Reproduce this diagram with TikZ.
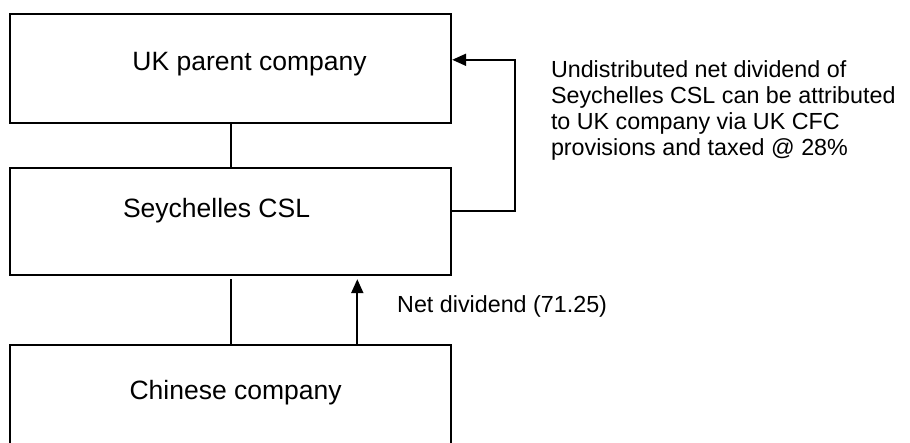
\documentclass[tikz,border=0pt]{standalone}
\usepackage{fontspec}
\setmainfont{Liberation Sans}
\usetikzlibrary{arrows.meta}

\begin{document}
\begin{tikzpicture}[x=1pt, y=1pt, line width=2pt,
  box/.style={draw=black, rectangle, inner sep=0pt, minimum width=441pt},
  boxtext/.style={anchor=base west, inner sep=0pt, font=\fontsize{26.5}{30}\selectfont},
  note/.style={anchor=base west, inner sep=0pt, align=left, font=\fontsize{23.3}{23}\selectfont},
  >={Triangle[length=14pt, width=12pt]}]
\useasboundingbox (0,0) rectangle (910,443);

\node[box, minimum height=109pt] (uk) at (230.7,374.5) {};
\node[box, minimum height=107pt] (sey) at (230.7,221.7) {};
\node[box, minimum height=109pt] (chn) at (230.7,43.9) {};

\node[boxtext] (uktxt) at (131.4,372) {UK parent company};
\node[boxtext] (seytxt) at (122,225.8) {Seychelles CSL};
\node[boxtext] (chntxt) at (128.6,43.3) {Chinese company};

\node[note] (net) at (396.2,130) {Net dividend (71.25)};
% last line sits on the base anchor
\node[note] (cfc) at (550,287) {Undistributed net dividend of\\[3pt]Seychelles CSL can be attributed\\[3pt]to UK company via UK CFC\\[3pt]provisions and taxed @ 28\%};

\draw (uk.south) -- (sey.north);
\draw[shorten >=3.4pt] (chn.north) -- (sey.south);
\draw[->, shorten >=3.4pt] ([xshift=126.6pt]chn.north) -- ([xshift=126.6pt]sey.south);
\draw[->] ([yshift=10.3pt]sey.east) -- ++(63,0) |- ([yshift=8.7pt]uk.east);
\end{tikzpicture}
\end{document}
